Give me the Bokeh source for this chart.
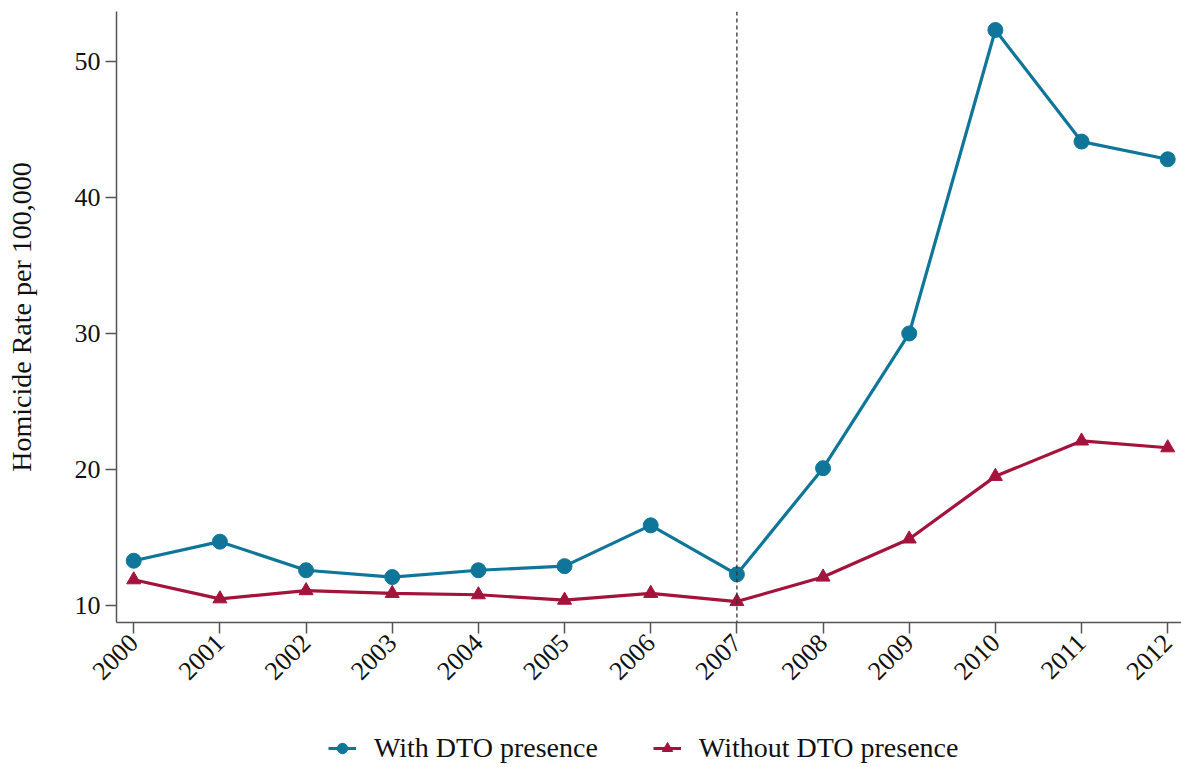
import math
from bokeh.plotting import figure
from bokeh.layouts import column
from bokeh.models import ColumnDataSource, Legend, LegendItem, Span, FixedTicker, Range1d
from bokeh.embed import file_html
from bokeh.resources import INLINE

years = [2000, 2001, 2002, 2003, 2004, 2005, 2006, 2007, 2008, 2009, 2010, 2011, 2012]
with_dto = [13.3, 14.7, 12.6, 12.1, 12.6, 12.9, 15.9, 12.3, 20.1, 30.0, 52.3, 44.1, 42.8]
without_dto = [11.9, 10.5, 11.1, 10.9, 10.8, 10.4, 10.9, 10.3, 12.1, 14.9, 19.5, 22.1, 21.6]
y_ticks = [10, 20, 30, 40, 50]
series_names = ["With DTO presence", "Without DTO presence"]

BLUE = "#0f7699"
RED = "#a3133c"
FONT = "Liberation Serif"
FS = "26px"
FS_BIG = "28px"

W = 1181
H1 = 690
H2 = 77

p = figure(width=W, height=H1, output_backend="svg", toolbar_location=None,
           x_range=Range1d(1999.80, 2012.16), y_range=Range1d(8.76, 53.66),
           min_border_left=116, min_border_top=11, min_border_right=0, min_border_bottom=H1 - 625)
p.outline_line_color = None
p.xgrid.grid_line_color = None
p.ygrid.grid_line_color = None

src = ColumnDataSource(dict(x=years, a=with_dto, b=without_dto))

vline = Span(location=2007, dimension="height", line_color="#333333", line_width=1.3, line_dash="4 3")
p.add_layout(vline)

p.line("x", "a", source=src, line_color=BLUE, line_width=3.2)
p.scatter("x", "a", source=src, marker="circle", size=15, fill_color=BLUE, line_color=BLUE)
p.line("x", "b", source=src, line_color=RED, line_width=3.2)
p.scatter("x", "b", source=src, marker="triangle", size=14, fill_color=RED, line_color=RED)

for ax in (p.xaxis[0], p.yaxis[0]):
    ax.axis_line_color = "#555555"
    ax.axis_line_width = 1.5
    ax.major_tick_line_color = "#555555"
    ax.major_tick_line_width = 1.5
    ax.minor_tick_line_color = None
    ax.major_tick_in = 0
    ax.major_tick_out = 11
    ax.major_label_standoff = 5
    ax.major_label_text_font = FONT
    ax.major_label_text_font_size = FS
    ax.major_label_text_color = "#111111"

p.xaxis.ticker = FixedTicker(ticks=years)
p.xaxis.major_label_orientation = math.pi / 4
p.yaxis.ticker = FixedTicker(ticks=y_ticks)
p.yaxis.axis_label = "Homicide Rate per 100,000"
p.yaxis.axis_label_text_font = FONT
p.yaxis.axis_label_text_font_style = "normal"
p.yaxis.axis_label_text_font_size = FS_BIG
p.yaxis.axis_label_text_color = "#111111"
p.yaxis.axis_label_standoff = 35

# legend strip below the chart: same series drawn off-view, only their legend is seen
lf = figure(width=W, height=H2, output_backend="svg", toolbar_location=None,
            x_range=Range1d(0, 1), y_range=Range1d(0, 1),
            min_border_left=0, min_border_right=0, min_border_top=0, min_border_bottom=0)
lf.axis.visible = False
lf.xgrid.grid_line_color = None
lf.ygrid.grid_line_color = None
lf.outline_line_color = None
e1 = lf.line("x", "a", source=src, line_color=BLUE, line_width=3)
f1 = lf.scatter("x", "a", source=src, marker="circle", size=13, fill_color=BLUE, line_color=BLUE)
e2 = lf.line("x", "b", source=src, line_color=RED, line_width=3)
f2 = lf.scatter("x", "b", source=src, marker="triangle", size=13, fill_color=RED, line_color=RED)

legend = Legend(items=[LegendItem(label=series_names[0], renderers=[e1, f1]),
                       LegendItem(label=series_names[1], renderers=[e2, f2])],
                orientation="horizontal", location=(212, 3))
legend.border_line_color = None
legend.background_fill_alpha = 0
legend.label_text_font = FONT
legend.label_text_font_size = FS_BIG
legend.label_text_color = "#111111"
legend.label_height = 26
legend.glyph_height = 26
legend.glyph_width = 28
legend.spacing = 55
legend.padding = 0
legend.margin = 0
legend.label_standoff = 18
lf.add_layout(legend)

layout = column(p, lf, spacing=0)
open("out.html", "w").write(file_html(layout, INLINE))
